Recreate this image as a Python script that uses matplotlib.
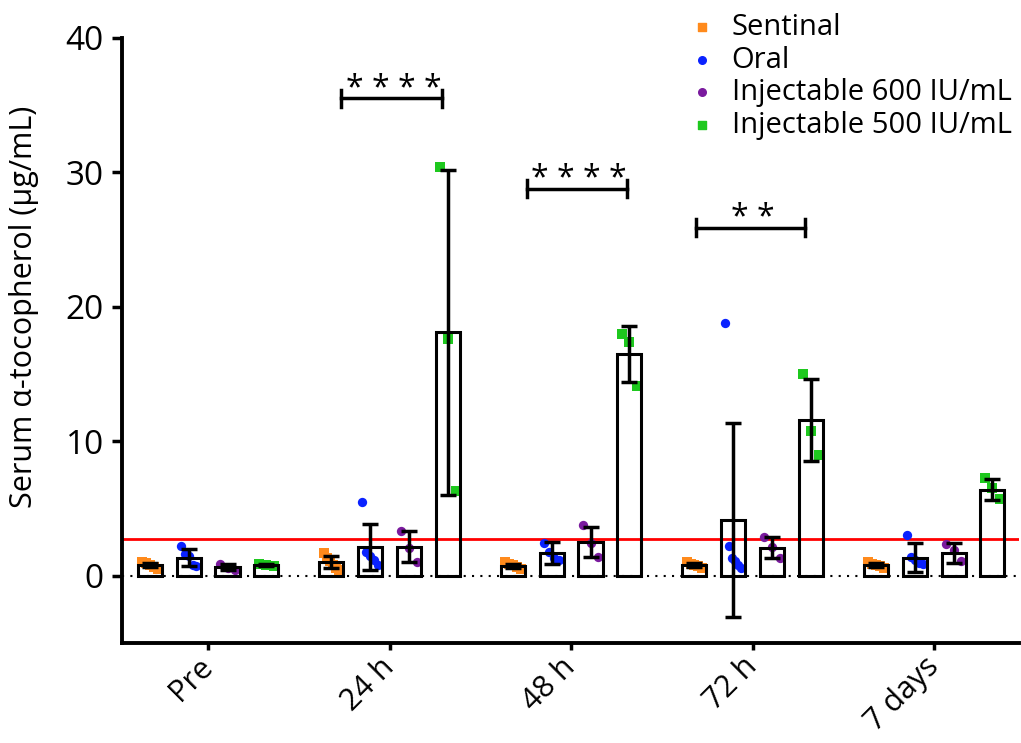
import numpy as np
import matplotlib
matplotlib.use("Agg")
import matplotlib.pyplot as plt

plt.rcParams['font.family'] = ['Open Sans', 'DejaVu Sans']

# datos
grupos = ['Pre', '24 h', '48 h', '72 h', '7 days']
series = ['Sentinal', 'Oral', 'Injectable 600 IU/mL', 'Injectable 500 IU/mL']
colores = ['#ff8a1c', '#0a22ff', '#7a1a9e', '#1ec81e']
marcadores = ['s', 'o', 'o', 's']

sentinal_pts = [[1.0, 0.95, 0.8, 0.65, 0.5],
                [1.7, 1.3, 1.1, 0.8, 0.6, 0.45],
                [1.0, 0.9, 0.8, 0.65, 0.5],
                [1.0, 0.9, 0.8, 0.7, 0.6],
                [1.0, 0.9, 0.8, 0.7, 0.55]]
oral_pts = [[2.2, 1.6, 1.45, 0.8, 0.7],
            [5.5, 1.8, 1.5, 1.2, 0.8],
            [2.4, 1.8, 1.3, 1.2],
            [18.8, 2.2, 1.35, 1.1, 0.8, 0.6],
            [3.0, 1.4, 1.2, 0.95, 0.85]]
iny600_pts = [[0.9, 0.6, 0.45],
              [3.35, 2.05, 1.05],
              [3.75, 2.4, 1.4],
              [2.85, 2.15, 1.35],
              [2.35, 1.95, 1.1]]
iny500_pts = [[0.85, 0.8, 0.75],
              [30.4, 17.6, 6.3],
              [18.0, 17.4, 14.1],
              [15.0, 10.8, 9.0],
              [7.3, 6.5, 5.7]]

sentinal_media = [0.8, 1.0, 0.75, 0.8, 0.8]
oral_media = [1.35, 2.15, 1.7, 4.15, 1.35]
iny600_media = [0.65, 2.15, 2.5, 2.1, 1.7]
iny500_media = [0.8, 18.1, 16.5, 11.6, 6.4]

sentinal_de = [0.15, 0.45, 0.15, 0.15, 0.15]
oral_de = [0.65, 1.7, 0.8, 7.2, 1.05]
iny600_de = [0.25, 1.15, 1.1, 0.75, 0.75]
iny500_de = [0.05, 12.1, 2.1, 3.05, 0.8]

limite = 2.75  # linea roja

# corchetes de significancia: grupo, inicio, fin, altura, texto
sig_grupo = [1, 2, 3]
sig_ini = [-1.25, -1.15, -1.45]
sig_fin = [1.35, 1.45, 1.35]
sig_y = [35.5, 28.8, 25.9]
sig_txt = ['* * * *', '* * * *', '* *']

puntos = [sentinal_pts, oral_pts, iny600_pts, iny500_pts]
medias = [sentinal_media, oral_media, iny600_media, iny500_media]
errores = [sentinal_de, oral_de, iny600_de, iny500_de]

sep = 4.68
centros = np.arange(len(grupos)) * sep
ancho = 0.62

fig = plt.figure(figsize=(10.21, 7.43), dpi=100)
ax = fig.add_axes([0.1195, 0.1346, 0.879, 0.8143])

ax.axhline(0, color='black', linestyle=(0, (1, 3)), lw=1.5, zorder=1)
ax.axhline(limite, color='red', lw=2, zorder=1)

for j in range(len(series)):
    xs = centros + (j - 1.5)
    for g in range(len(grupos)):
        p = puntos[j][g]
        jit = np.linspace(-0.2, 0.2, len(p))
        ax.scatter(xs[g] + jit, p, s=45, marker=marcadores[j], color=colores[j],
                   linewidths=0, zorder=2)
    ax.bar(xs, medias[j], width=ancho, facecolor='none', edgecolor='black',
           linewidth=2.2, zorder=3)
    ax.errorbar(xs, medias[j], yerr=errores[j], fmt='none', ecolor='black',
                elinewidth=2.5, capsize=6, capthick=2.5, zorder=4)
    ax.scatter([], [], s=30, marker=marcadores[j], color=colores[j], label=series[j])

for g, a, b, y, t in zip(sig_grupo, sig_ini, sig_fin, sig_y, sig_txt):
    x0 = centros[g] + a
    x1 = centros[g] + b
    ax.plot([x0, x1], [y, y], color='black', lw=2.5)
    ax.plot([x0, x0], [y - 0.6, y + 0.6], color='black', lw=2.5)
    ax.plot([x1, x1], [y - 0.6, y + 0.6], color='black', lw=2.5)
    ax.text((x0 + x1) / 2 + 0.05, y - 0.55, t, ha='center', va='bottom', fontsize=23)

ax.set_xlim(-2.22, centros[-1] + 2.2)
ax.set_ylim(-5, 40)
ax.set_yticks([0, 10, 20, 30, 40])
ax.set_xticks(centros)
ax.set_xticklabels(grupos, rotation=45, ha='right', va='center',
                   rotation_mode='anchor', fontsize=22)
ax.tick_params(axis='y', labelsize=24, width=2.5, length=7, pad=6)
ax.tick_params(axis='x', width=2.5, length=5, pad=9)
ax.set_ylabel('Serum α-tocopherol (μg/mL)', fontsize=22)
ax.yaxis.set_label_coords(-0.092, 25 / 45)

for s in ['top', 'right']:
    ax.spines[s].set_visible(False)
for s in ['left', 'bottom']:
    ax.spines[s].set_linewidth(2.8)

fig.legend(loc='upper left', bbox_to_anchor=(0.668, 0.998), frameon=False, fontsize=21,
           handlelength=0.6, handletextpad=0.7, labelspacing=0.12, borderaxespad=0)

fig.savefig('out.png', dpi=100)
